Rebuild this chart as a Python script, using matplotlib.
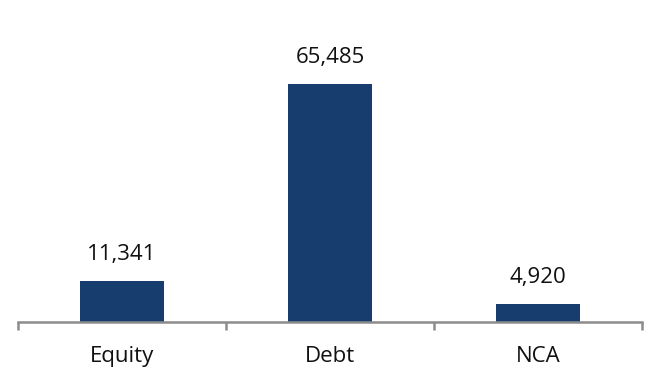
import matplotlib
matplotlib.use("Agg")
import matplotlib.pyplot as plt

categories = ["Equity", "Debt", "NCA"]
values = [11341, 65485, 4920]
value_labels = ["11,341", "65,485", "4,920"]

plt.rcParams['font.family'] = ['Open Sans', 'DejaVu Sans']

W, H = 657, 379
fig = plt.figure(figsize=(W / 100, H / 100), dpi=100)
ymax = 80000
base_px = 322
top_px = base_px - 238 * ymax / 65485
ax = fig.add_axes([18 / W, 1 - base_px / H, (642 - 18) / W, (base_px - top_px) / H])

bar_color = "#173c6e"
x = list(range(len(categories)))
ax.bar(x, values, width=0.4, color=bar_color, zorder=2)
ax.set_xlim(-0.5, len(categories) - 0.5)
ax.set_ylim(0, ymax)

for xi, v, lab in zip(x, values, value_labels):
    ax.annotate(lab, (xi, v), xytext=(0, 21), textcoords="offset pixels",
                ha="center", va="baseline", fontsize=16, color="#111111")

for xi, cat in zip(x, categories):
    ax.annotate(cat, (xi, 0), xycoords=("data", "axes fraction"), xytext=(0, -40),
                textcoords="offset pixels", ha="center", va="baseline",
                fontsize=16, color="#111111", annotation_clip=False)

for s in ["top", "right", "left"]:
    ax.spines[s].set_visible(False)
ax.spines["bottom"].set_color("#8c8c8c")
ax.spines["bottom"].set_linewidth(1.8)
ax.set_yticks([])
ax.set_xticks([])
ax.set_xticks([i - 0.5 for i in range(len(categories) + 1)], minor=True)
ax.tick_params(axis="x", which="minor", length=6, width=1.8, color="#8c8c8c",
               direction="out", labelbottom=False)

fig.savefig("out.png", dpi=100)
